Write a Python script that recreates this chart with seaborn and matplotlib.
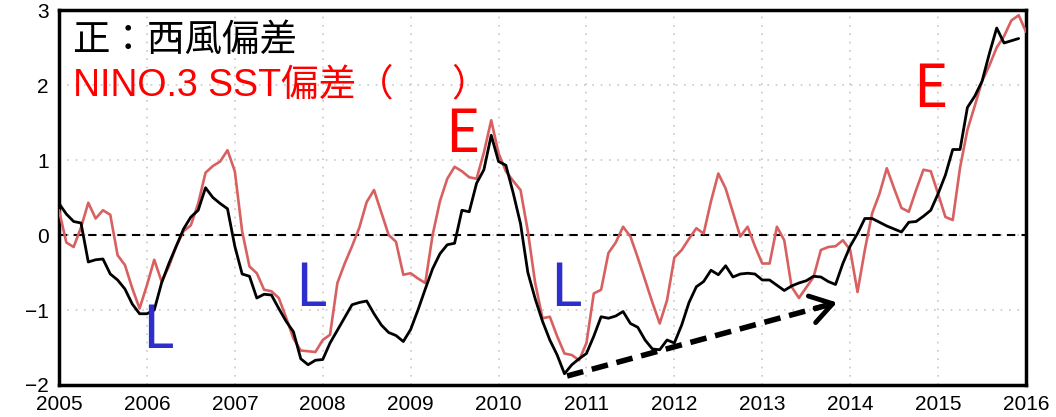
import numpy as np
import pandas as pd
import matplotlib
matplotlib.use("Agg")
import matplotlib.pyplot as plt
import seaborn as sns

# Monthly anomalies, Jan 2005 onward
wind_anom = [
    0.42, 0.28, 0.18, 0.16, -0.36, -0.33, -0.32, -0.52, -0.60, -0.72, -0.92, -1.05,
    -1.05, -1.00, -0.64, -0.38, -0.15, 0.08, 0.24, 0.33, 0.63, 0.50, 0.42, 0.35,
    -0.15, -0.52, -0.55, -0.84, -0.79, -0.80, -0.98, -1.15, -1.29, -1.65, -1.73, -1.67,
    -1.66, -1.44, -1.27, -1.10, -0.93, -0.90, -0.88, -1.05, -1.20, -1.30, -1.34, -1.42,
    -1.26, -1.00, -0.72, -0.45, -0.25, -0.13, -0.11, 0.33, 0.31, 0.69, 0.87, 1.33,
    0.98, 0.93, 0.56, 0.15, -0.50, -0.85, -1.15, -1.40, -1.60, -1.85, -1.73, -1.65,
    -1.58, -1.35, -1.09, -1.11, -1.08, -1.02, -1.18, -1.23, -1.40, -1.52, -1.53, -1.40,
    -1.44, -1.20, -0.90, -0.69, -0.62, -0.47, -0.53, -0.41, -0.56, -0.52, -0.51, -0.52,
    -0.60, -0.60, -0.67, -0.74, -0.68, -0.64, -0.61, -0.55, -0.56, -0.62, -0.66, -0.38,
    -0.15, 0.02, 0.22, 0.22, 0.17, 0.12, 0.08, 0.04, 0.17, 0.18, 0.25, 0.33,
    0.55, 0.80, 1.14, 1.14, 1.70, 1.85, 2.05, 2.42, 2.76, 2.56, 2.59, 2.62,
]
sst_anom = [
    0.33, -0.10, -0.16, 0.10, 0.43, 0.22, 0.33, 0.27, -0.27, -0.40, -0.71, -0.98,
    -0.67, -0.33, -0.62, -0.42, -0.15, 0.05, 0.13, 0.42, 0.83, 0.92, 0.98, 1.13,
    0.85, 0.05, -0.42, -0.51, -0.73, -0.75, -0.84, -1.10, -1.38, -1.54, -1.55, -1.56,
    -1.40, -1.33, -0.64, -0.38, -0.15, 0.10, 0.44, 0.60, 0.30, 0.00, -0.09, -0.53,
    -0.51, -0.58, -0.64, 0.00, 0.45, 0.75, 0.91, 0.85, 0.77, 0.75, 1.10, 1.53,
    1.09, 0.85, 0.72, 0.60, 0.05, -0.64, -1.11, -1.09, -1.35, -1.58, -1.60, -1.67,
    -1.44, -0.78, -0.73, -0.24, -0.10, 0.11, -0.02, -0.30, -0.60, -0.90, -1.18, -0.87,
    -0.30, -0.20, -0.05, 0.09, 0.02, 0.45, 0.82, 0.62, 0.30, -0.02, 0.11, -0.15,
    -0.38, -0.38, 0.11, -0.07, -0.69, -0.84, -0.70, -0.56, -0.20, -0.16, -0.15, -0.07,
    -0.20, -0.76, -0.20, 0.29, 0.55, 0.89, 0.62, 0.36, 0.31, 0.60, 0.87, 0.85,
    0.55, 0.24, 0.20, 0.90, 1.40, 1.72, 2.05, 2.26, 2.50, 2.65, 2.86, 2.93,
    2.71,
]
start_year = 2005
year_ticks = list(range(2005, 2017))
value_ticks = [-2, -1, 0, 1, 2, 3]

# phase labels: (text, year, value, colour)
phase_labels = [
    ("L", 2006.13, -1.28, "#2e2ecc"),
    ("L", 2007.87, -0.72, "#2e2ecc"),
    ("L", 2010.77, -0.72, "#2e2ecc"),
    ("E", 2009.59, 1.33, "#ff0000"),
    ("E", 2014.91, 1.93, "#ff0000"),
]
trend_start = (2010.78, -1.88)
trend_end = (2013.85, -0.90)

def month_axis(values):
    return start_year + np.arange(len(values)) / 12.0

wind_df = pd.DataFrame({"year": month_axis(wind_anom), "anom": wind_anom})
sst_df = pd.DataFrame({"year": month_axis(sst_anom), "anom": sst_anom})

sns.set_theme(style="white")
plt.rcParams["font.family"] = ["Liberation Sans", "Noto Sans CJK JP", "DejaVu Sans"]
plt.rcParams["axes.unicode_minus"] = True

fig = plt.figure(figsize=(10.56, 4.17), dpi=100)
ax = fig.add_axes([59 / 1056, 32 / 417, 967 / 1056, 375 / 417])

ax.grid(True, color="#c8c8c8", linestyle=(0, (1, 4)), linewidth=1.2)
ax.axhline(0, color="black", linewidth=1.5, linestyle=(0, (4, 3)), zorder=2)

sns.lineplot(data=sst_df, x="year", y="anom", ax=ax, color="#d86060",
             linewidth=1.9, zorder=3)
sns.lineplot(data=wind_df, x="year", y="anom", ax=ax, color="black",
             linewidth=2.0, zorder=4)

# trend arrow
ax.plot([trend_start[0], trend_end[0]], [trend_start[1], trend_end[1]],
        color="black", linewidth=4, linestyle=(0, (3, 1.6)),
        solid_capstyle="butt", zorder=5)
ax.annotate("", xy=trend_end,
            xytext=(trend_end[0] - 0.25, trend_end[1] - 0.08),
            arrowprops=dict(arrowstyle="->,head_length=0.7,head_width=0.45",
                            color="black", lw=3.5, mutation_scale=22,
                            shrinkA=0, shrinkB=0),
            zorder=6)

for txt, x, y, col in phase_labels:
    ax.text(x, y, txt, color=col, fontsize=42, ha="center", va="center",
            family=["Noto Sans CJK JP"], zorder=7)

ax.text(0.014, 0.92, "正：西風偏差", transform=ax.transAxes, fontsize=27,
        color="black", ha="left", va="center",
        family=["Noto Sans CJK JP", "DejaVu Sans"])
ax.text(0.014, 0.80, "NINO.3 SST偏差（　  ）", transform=ax.transAxes,
        fontsize=27, color="#ff0000", ha="left", va="center",
        family=["Liberation Sans", "Noto Sans CJK JP"])

ax.set_xlim(2005, 2016)
ax.set_ylim(-2, 3)
ax.set_xticks(year_ticks)
ax.set_xticklabels([str(y) for y in year_ticks])
ax.set_yticks(value_ticks)
ax.set_xlabel("")
ax.set_ylabel("")
ax.tick_params(axis="both", direction="out", length=6, width=1.5,
               labelsize=15, colors="black", pad=1.5)
for sp in ax.spines.values():
    sp.set_visible(True)
    sp.set_color("black")
    sp.set_linewidth(2.5)

fig.savefig("out.png", dpi=100, facecolor="white")
